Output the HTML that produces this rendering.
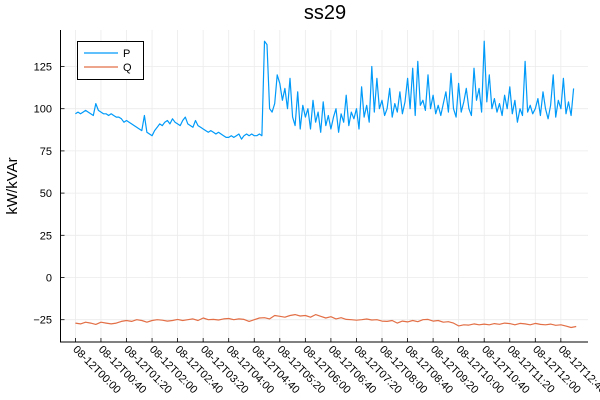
<!DOCTYPE html>
<html><head><meta charset="utf-8"><style>
body{margin:0;background:#fff;}
svg{display:block;font-family:"Liberation Sans","DejaVu Sans",sans-serif;}
</style></head><body>
<svg id="chart" width="600" height="400" viewBox="0 0 600 400" xmlns="http://www.w3.org/2000/svg">
<rect width="600" height="400" fill="#fff"/>
<text x="325" y="19" font-size="20" text-anchor="middle" fill="#000">ss29</text>
<text transform="translate(17,186) rotate(-90)" font-size="15" text-anchor="middle" fill="#000">kW/kVAr</text>
<g id="grid"></g>
<g id="axes"></g>
<g id="series"></g>
<g>
<rect x="77.5" y="41.5" width="66" height="38" fill="#fff" stroke="#000" stroke-width="1"/>
<line x1="84" y1="53" x2="118" y2="53" stroke="#009af9" stroke-width="1.2"/>
<text x="123" y="57" font-size="11">P</text>
<line x1="84" y1="67" x2="118" y2="67" stroke="#e26f46" stroke-width="1.2"/>
<text x="123" y="71" font-size="11">Q</text>
</g>
</svg>
<script>
const xTickLabels = ["08-12T00:00","08-12T00:40","08-12T01:20","08-12T02:00","08-12T02:40","08-12T03:20","08-12T04:00","08-12T04:40","08-12T05:20","08-12T06:00","08-12T06:40","08-12T07:20","08-12T08:00","08-12T08:40","08-12T09:20","08-12T10:00","08-12T10:40","08-12T11:20","08-12T12:00","08-12T12:40"];
const xTickMinutes = [0,40,80,120,160,200,240,280,320,360,400,440,480,520,560,600,640,680,720,760];
const yTicks = [-25,0,25,50,75,100,125];
const pStepMin = 4;
const pValues = [97,98,97,98,99,98,97,96,103,99,
98,97,97,96,97,96,95,95,94,92,
93,92,91,90,89,88,87,96,86,85,
84,87,89,91,90,92,93,91,94,92,
91,90,93,95,91,90,89,93,90,89,
88,87,86,87,86,85,86,85,84,83,
83,84,83,84,85,82,84,85,84,85,
84,84,85,84,140,138,100,98,103,120,
115,105,112,100,118,95,90,110,88,102,
95,100,88,105,92,98,86,104,90,96,
88,95,100,86,97,92,108,90,98,94,
100,88,113,95,102,92,125,98,118,100,
105,96,100,112,95,103,98,110,97,104,
118,100,124,96,128,102,105,99,120,100,
108,97,102,96,103,110,98,121,100,95,
115,98,104,112,100,96,124,105,112,98,
140,104,120,100,106,98,103,96,108,100,
113,97,105,92,100,96,128,98,102,97,
100,106,96,110,100,94,102,120,95,105,
100,118,97,104,96,112];
const qStepMin = 8;
const qValues = [-27,-27.5,-26.5,-27,-27.8,-26.5,-27,-27.5,-27,-26,
-25.5,-26,-25,-25.5,-26.5,-25.5,-25,-25.3,-25.8,-25.5,
-24.8,-25.5,-25,-24.5,-25.5,-24,-25,-24.8,-25.2,-24.5,
-24.3,-25,-24.5,-24.8,-26,-25,-24,-23.8,-24.5,-22.5,
-23,-23.5,-22.5,-22,-22.8,-22.5,-23.5,-22,-23,-24,
-23.2,-24.5,-23.8,-24.8,-25,-25.3,-25,-24.6,-25.2,-25,
-25.8,-26,-25.5,-27,-25.8,-26.3,-25.5,-26.2,-25,-24.8,
-25.8,-25.5,-26.5,-26.2,-27,-28.7,-28,-28.2,-27.5,-28,
-27.6,-28,-27.3,-27.7,-27,-27.3,-28,-27.2,-27.5,-28,
-27.2,-27.8,-28,-27.6,-28.3,-28,-28.8,-29.6,-29];

const NS="http://www.w3.org/2000/svg";
const L=60.5,R=588,T=30,B=342;
function xs(m){return 75.4+m*(25.55/40);}
function ys(v){return 277.5-v*(42.2/25);}
function mk(tag,parent){const e=document.createElementNS(NS,tag);parent.appendChild(e);return e;}
const grid=document.getElementById('grid'),axes=document.getElementById('axes'),series=document.getElementById('series');
xTickMinutes.forEach((m,i)=>{
  const x=xs(m);
  const g=mk('line',grid);
  
  
  g.setAttribute('x1',x);g.setAttribute('x2',x);g.setAttribute('y1',T);g.setAttribute('y2',B);
  g.setAttribute('stroke','#ebebeb');g.setAttribute('stroke-width','0.8');
  const t=mk('line',axes);
  
  
  t.setAttribute('x1',x);t.setAttribute('x2',x);t.setAttribute('y1',B);t.setAttribute('y2',B-4);
  t.setAttribute('stroke','#000');t.setAttribute('stroke-width','0.8');
  const lb=mk('text',axes);
  
  
  lb.setAttribute('transform','translate('+(x-3)+','+(B+8)+') rotate(45)');
  lb.setAttribute('font-size','11');lb.setAttribute('fill','#000');
  lb.textContent=xTickLabels[i];
});
yTicks.forEach(v=>{
  const y=ys(v);
  const g=mk('line',grid);
  
  
  g.setAttribute('x1',L);g.setAttribute('x2',R);g.setAttribute('y1',y);g.setAttribute('y2',y);
  g.setAttribute('stroke','#ebebeb');g.setAttribute('stroke-width','0.8');
  const t=mk('line',axes);
  
  
  t.setAttribute('x1',L);t.setAttribute('x2',L+4);t.setAttribute('y1',y);t.setAttribute('y2',y);
  t.setAttribute('stroke','#000');t.setAttribute('stroke-width','0.8');
  const lb=mk('text',axes);
  
  
  lb.setAttribute('x',52);lb.setAttribute('y',y+4);lb.setAttribute('text-anchor','end');
  lb.setAttribute('font-size','11');lb.setAttribute('fill','#000');
  lb.textContent=v<0?'\u2212'+Math.abs(v):String(v);
});
const ax=mk('path',axes);


ax.setAttribute('d','M'+L+','+T+'V'+B+'H'+R);
ax.setAttribute('stroke','#000');ax.setAttribute('fill','none');ax.setAttribute('stroke-width','1');
function line(vals,step,color,name){
  const p=mk('path',series);
  
  
  p.setAttribute('d',vals.map((v,i)=>(i?'L':'M')+xs(i*step).toFixed(1)+','+ys(v).toFixed(1)).join(''));
  p.setAttribute('stroke',color);p.setAttribute('fill','none');p.setAttribute('stroke-width','1.2');
  p.setAttribute('stroke-linejoin','round');
}
line(pValues,pStepMin,'#009af9','series-p');
line(qValues,qStepMin,'#e26f46','series-q');
</script>
</body></html>
